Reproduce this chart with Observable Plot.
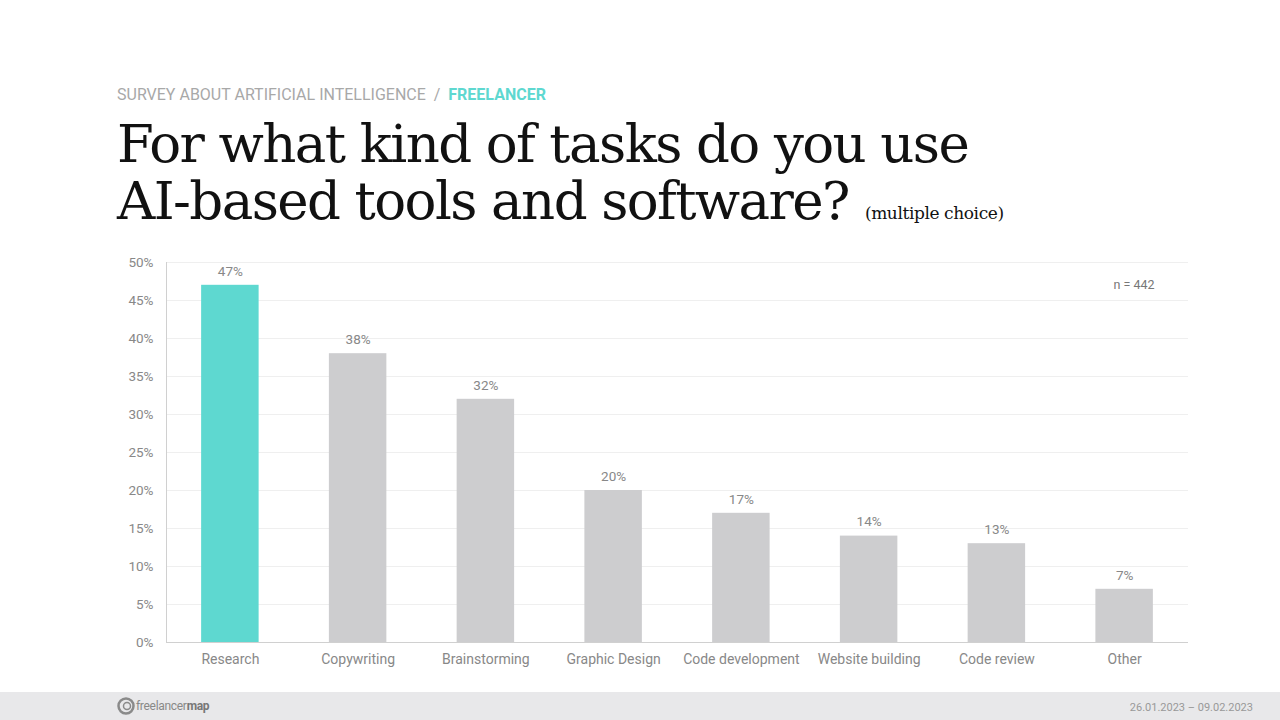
<!DOCTYPE html>
<html>
<head>
<meta charset="utf-8">
<script src="https://cdn.jsdelivr.net/npm/d3@7"></script>
<script src="https://cdn.jsdelivr.net/npm/@observablehq/plot@0.6"></script>
<style>
  html, body { margin: 0; padding: 0; background: #fff; }
  #page { position: relative; width: 1280px; height: 720px; overflow: hidden; font-family: Roboto, sans-serif; }
  #kicker { position: absolute; left: 117px; top: 85px; font-size: 16px; color: #a8a8a8; white-space: nowrap; }
  #kicker b { color: #5ed8d0; font-weight: 700; }
  #title { position: absolute; left: 117px; top: 115px; font-family: "DejaVu Serif", serif; font-size: 53px; line-height: 57px; color: #111; white-space: nowrap; letter-spacing: -1.6px; }
  #title small { font-size: 17px; letter-spacing: -0.4px; margin-left: 16px; }
  #chart { position: absolute; left: 0; top: 250px; }
  #footer { position: absolute; left: 0; top: 692px; width: 1280px; height: 28px; background: #e8e8ea; }
  #logo { position: absolute; left: 117px; top: 5px; font-size: 12px; color: #888; display: flex; align-items: center; letter-spacing: -0.3px; }
  #logo svg { margin-right: 1px; }
  #logo b { color: #777; }
  #dates { position: absolute; right: 27px; top: 9px; font-size: 11px; color: #999; }
</style>
</head>
<body>
<div id="page">
  <div id="kicker">SURVEY ABOUT ARTIFICIAL INTELLIGENCE &nbsp;/&nbsp; <b>FREELANCER</b></div>
  <div id="title">For what kind of tasks do you use<br>AI-based tools and software?<small>(multiple choice)</small></div>
  <div id="chart"></div>
  <div id="footer">
    <div id="logo">
      <svg width="18" height="18" viewBox="0 0 18 18">
        <circle cx="9" cy="9" r="7.5" fill="none" stroke="#8a8a8a" stroke-width="2.5"/>
        <circle cx="10" cy="9" r="3.5" fill="none" stroke="#8a8a8a" stroke-width="1.5"/>
      </svg>freelancer<b>map</b>
    </div>
    <div id="dates">26.01.2023 – 09.02.2023</div>
  </div>
</div>
<script>
// Share of respondents per task (percent)
const tasks = ["Research", "Copywriting", "Brainstorming", "Graphic Design", "Code development", "Website building", "Code review", "Other"];
const shares = [47, 38, 32, 20, 17, 14, 13, 7];
const highlight = "Research";
const yTicks = [0, 5, 10, 15, 20, 25, 30, 35, 40, 45, 50];
const sampleNote = "n = 442";

const rows = tasks.map((t, i) => ({task: t, share: shares[i]}));
const pct = d => d + "%";

const chart = Plot.plot({
  width: 1280,
  height: 430,
  marginLeft: 166,
  marginRight: 92,
  marginTop: 12,
  marginBottom: 38,
  style: {fontFamily: "Roboto, sans-serif", fontSize: "14px", color: "#888", background: "transparent"},
  x: {domain: tasks, label: null, paddingInner: 0.55, paddingOuter: 0.275, round: false},
  y: {domain: [0, 50], label: null},
  marks: [
    Plot.gridY(yTicks, {stroke: "#efefef", strokeOpacity: 1}),
    Plot.barY(rows, {x: "task", y: "share", fill: d => d.task === highlight ? "#5ed8d0" : "#cdcdcf"}),
    Plot.text(rows, {x: "task", y: "share", text: d => pct(d.share), dy: -14, fill: "#888", fontSize: 13.5}),
    Plot.ruleY([0], {stroke: "#d0d0d0"}),
    Plot.text([sampleNote], {frameAnchor: "top-right", dx: -34, dy: 18, fill: "#777", fontSize: 12.5}),
    Plot.axisX({tickSize: 0, tickPadding: 12, fontSize: 14, fill: "#888", label: null}),
    Plot.axisY({ticks: yTicks, tickFormat: pct, tickSize: 0, tickPadding: 13, fontSize: 13.5, fill: "#888", label: null})
  ]
});

// vertical baseline along the left edge of the plot area
d3.select(chart).append("line")
  .attr("x1", 166.5).attr("x2", 166.5)
  .attr("y1", 12).attr("y2", 392)
  .attr("stroke", "#d0d0d0");

document.getElementById("chart").appendChild(chart);
</script>
</body>
</html>
